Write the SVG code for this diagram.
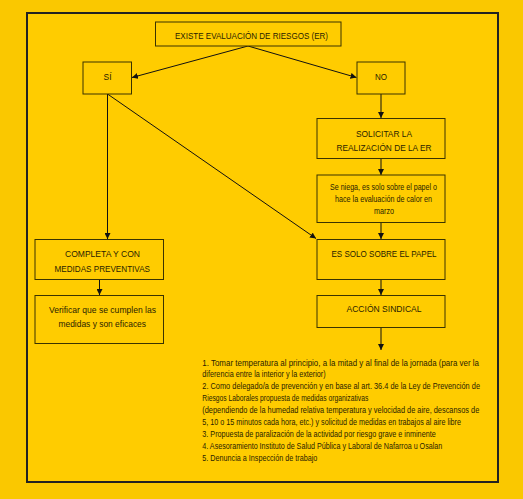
<svg xmlns="http://www.w3.org/2000/svg" width="523" height="499" viewBox="0 0 523 499">
<style>
.bx{fill:#FFCC00;stroke:#3a3300;stroke-width:1}
.t{font-family:"Liberation Sans Narrow","Liberation Sans",Arial,sans-serif;fill:#2a2300}
.c{font-size:9.8px}
.s{font-size:8.2px}
.e{stroke:#111;stroke-width:1;fill:none;marker-end:url(#ah)}
</style>
<defs>
<marker id="ah" viewBox="0 0 10 10" refX="10" refY="5" markerWidth="6" markerHeight="6" markerUnits="userSpaceOnUse" orient="auto">
<path d="M0,0 L10,5 L0,10 Z" fill="#111"/>
</marker>
</defs>
<rect x="0" y="0" width="523" height="499" fill="#FAC800"/>
<rect x="27" y="13" width="471" height="469" fill="#FFCC00" stroke="#222" stroke-width="2"/>

<g id="connectors">
<line class="e" x1="248" y1="46" x2="132" y2="77.5"/>
<line class="e" x1="248" y1="46" x2="356.5" y2="77.5"/>
<line class="e" x1="381" y1="94" x2="381" y2="118"/>
<line class="e" x1="381" y1="158" x2="381" y2="175"/>
<line class="e" x1="381" y1="222" x2="381" y2="239"/>
<line class="e" x1="381" y1="279" x2="381" y2="295"/>
<line class="e" x1="381" y1="327" x2="381" y2="350"/>
<line class="e" x1="107.5" y1="94" x2="107.5" y2="239"/>
<line class="e" x1="107.5" y1="94" x2="316" y2="238.5"/>
<line class="e" x1="99.5" y1="279" x2="99.5" y2="295"/>
</g>

<g id="n-existe">
<rect class="bx" x="155.5" y="22" width="185.5" height="24"/>
<text class="t c" x="175" y="38.5" textLength="153" lengthAdjust="spacingAndGlyphs">EXISTE EVALUACIÓN DE RIESGOS (ER)</text>
</g>
<g id="n-si">
<rect class="bx" x="83" y="62" width="48.5" height="32"/>
<text class="t c" x="103.5" y="80" textLength="8" lengthAdjust="spacingAndGlyphs">SÍ</text>
</g>
<g id="n-no">
<rect class="bx" x="357" y="62" width="48" height="32"/>
<text class="t c" x="375" y="80" textLength="12" lengthAdjust="spacingAndGlyphs">NO</text>
</g>
<g id="n-solicitar">
<rect class="bx" x="317" y="118.5" width="128" height="40"/>
<text class="t c" x="356" y="136.5" textLength="56" lengthAdjust="spacingAndGlyphs">SOLICITAR LA</text>
<text class="t c" x="336.5" y="150.5" textLength="95" lengthAdjust="spacingAndGlyphs">REALIZACIÓN DE LA ER</text>
</g>
<g id="n-seniega">
<rect class="bx" x="317" y="175" width="128" height="47.5"/>
<text class="t s" x="330" y="190" textLength="107" lengthAdjust="spacingAndGlyphs">Se niega, es solo sobre el papel o</text>
<text class="t s" x="335" y="202" textLength="97" lengthAdjust="spacingAndGlyphs">hace la evaluación de calor en</text>
<text class="t s" x="374" y="214" textLength="20" lengthAdjust="spacingAndGlyphs">marzo</text>
</g>
<g id="n-essolo">
<rect class="bx" x="317" y="239.5" width="128" height="40"/>
<text class="t c" x="331.5" y="256.5" textLength="105" lengthAdjust="spacingAndGlyphs">ES SOLO SOBRE EL PAPEL</text>
</g>
<g id="n-accion">
<rect class="bx" x="317" y="295.5" width="128" height="32"/>
<text class="t c" x="346.5" y="312" textLength="75" lengthAdjust="spacingAndGlyphs">ACCIÓN SINDICAL</text>
</g>
<g id="n-completa">
<rect class="bx" x="35" y="239.5" width="128.5" height="40"/>
<text class="t c" x="65" y="256.5" textLength="75" lengthAdjust="spacingAndGlyphs">COMPLETA Y CON</text>
<text class="t c" x="54.5" y="271.5" textLength="95.5" lengthAdjust="spacingAndGlyphs">MEDIDAS PREVENTIVAS</text>
</g>
<g id="n-verificar">
<rect class="bx" x="35" y="295.5" width="128.5" height="48"/>
<text class="t c" x="49" y="313" textLength="107" lengthAdjust="spacingAndGlyphs">Verificar que se cumplen las</text>
<text class="t c" x="58.5" y="326.5" textLength="87.5" lengthAdjust="spacingAndGlyphs">medidas y son eficaces</text>
</g>
<g id="n-acciones">
<text class="t s" x="202.3" y="366" textLength="276.7" lengthAdjust="spacingAndGlyphs">1. Tomar  temperatura al principio,  a la mitad y al final de la jornada (para ver la</text>
<text class="t s" x="202.3" y="377" textLength="123.4" lengthAdjust="spacingAndGlyphs">diferencia entre la interior y la exterior)</text>
<text class="t s" x="202.3" y="389" textLength="277.7" lengthAdjust="spacingAndGlyphs">2. Como delegado/a de prevención y en base al art. 36.4 de la Ley de Prevención de</text>
<text class="t s" x="202.3" y="400.7" textLength="166" lengthAdjust="spacingAndGlyphs">Riesgos Laborales propuesta de medidas organizativas</text>
<text class="t s" x="202.3" y="412.7" textLength="277" lengthAdjust="spacingAndGlyphs">(dependiendo de la humedad relativa temperatura y velocidad de aire, descansos de</text>
<text class="t s" x="202.3" y="424.5" textLength="258.7" lengthAdjust="spacingAndGlyphs">5, 10 o 15 minutos cada hora, etc.) y solicitud de medidas en trabajos al aire libre</text>
<text class="t s" x="202.3" y="437.3" textLength="233.4" lengthAdjust="spacingAndGlyphs">3. Propuesta de paralización de la actividad por riesgo grave e inminente</text>
<text class="t s" x="202.3" y="449.3" textLength="240" lengthAdjust="spacingAndGlyphs">4. Asesoramiento Instituto de Salud Pública y Laboral de Nafarroa u Osalan</text>
<text class="t s" x="202.3" y="461.3" textLength="115" lengthAdjust="spacingAndGlyphs">5. Denuncia a Inspección de trabajo</text>
</g>
</svg>
